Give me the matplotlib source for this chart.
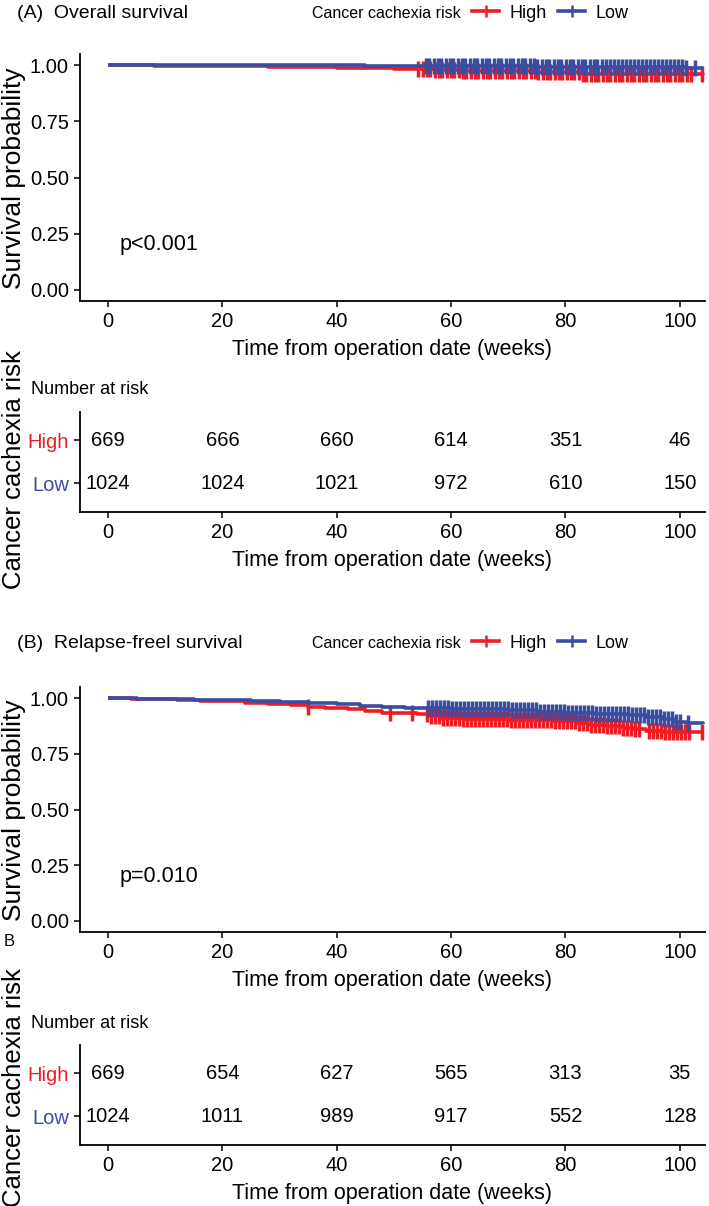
import numpy as np
import matplotlib
matplotlib.use("Agg")
import matplotlib.pyplot as plt
from matplotlib.lines import Line2D

plt.rcParams['font.family'] = ['Liberation Sans', 'DejaVu Sans']

RED = '#EE1D25'
BLUE = '#3A4DA2'

groups = ['High', 'Low']
risk_times = [0, 20, 40, 60, 80, 100]

# (A) overall survival - step curves
os_high_t = [0, 8, 15, 22, 28, 34, 40, 45, 50, 54, 57, 62, 68, 75, 82, 83, 90, 97, 104]
os_high_s = [1.0, 0.9985, 0.997, 0.9955, 0.994, 0.992, 0.989, 0.987, 0.984, 0.981, 0.978, 0.976, 0.974, 0.972, 0.969, 0.963, 0.962, 0.960, 0.958]
os_low_t = [0, 35, 45, 55, 65, 75, 85, 95, 101, 104]
os_low_s = [1.0, 0.999, 0.998, 0.997, 0.996, 0.994, 0.992, 0.990, 0.986, 0.986]
os_high_cens = [54.2, 55.0, 55.7, 56.3, 57.1, 57.8, 58.4, 59.2, 59.9, 60.5, 61.3, 62.0, 62.6, 63.4, 64.1,
                64.7, 65.5, 66.2, 66.8, 67.6, 68.3, 68.9, 69.7, 70.4, 71.0, 71.8, 72.5, 73.1, 73.9, 74.6,
                75.2, 76.0, 76.7, 77.3, 78.1, 78.8, 79.4, 80.2, 80.9, 81.5, 82.3, 83.0, 83.6, 84.4, 85.1,
                85.7, 86.5, 87.2, 87.8, 88.6, 89.3, 89.9, 90.7, 91.4, 92.0, 92.8, 93.5, 94.1, 94.9, 95.6,
                96.2, 97.0, 97.7, 98.3, 99.1, 99.8, 100.4, 101.2, 101.9, 103.9]
os_low_cens = [55.6, 56.2, 57.0, 57.7, 58.3, 59.1, 59.8, 60.4, 61.2, 61.9, 62.5, 63.3, 64.0, 64.6, 65.4,
               66.1, 66.7, 67.5, 68.2, 68.8, 69.6, 70.3, 70.9, 71.7, 72.4, 73.0, 73.8, 74.5, 75.1, 75.9,
               76.6, 77.2, 78.0, 78.7, 79.3, 80.1, 80.8, 81.4, 82.2, 82.9, 83.5, 84.3, 85.0, 85.6, 86.4,
               87.1, 87.7, 88.5, 89.2, 89.8, 90.6, 91.3, 91.9, 92.7, 93.4, 94.0, 94.8, 95.5, 96.1, 96.9,
               97.6, 98.2, 99.0, 99.7, 100.3, 101.0, 102.6]
os_risk_high = [669, 666, 660, 614, 351, 46]
os_risk_low = [1024, 1024, 1021, 972, 610, 150]

# (B) relapse-free survival
rfs_high_t = [0, 4, 8, 12, 16, 20, 24, 28, 32, 35, 38, 42, 45, 48, 51, 54, 56, 58, 62, 66, 70, 74, 78,
              82, 84, 87, 90, 92, 94, 97, 104]
rfs_high_s = [1.0, 0.997, 0.994, 0.991, 0.988, 0.985, 0.980, 0.975, 0.968, 0.962, 0.957, 0.950, 0.942,
              0.935, 0.932, 0.928, 0.918, 0.912, 0.908, 0.905, 0.902, 0.900, 0.896, 0.890, 0.880, 0.874,
              0.868, 0.860, 0.852, 0.848, 0.848]
rfs_low_t = [0, 5, 10, 15, 20, 25, 30, 35, 40, 44, 48, 52, 56, 60, 65, 70, 75, 80, 85, 88, 91, 94, 97,
             99, 101, 104]
rfs_low_s = [1.0, 0.998, 0.996, 0.993, 0.990, 0.986, 0.982, 0.977, 0.972, 0.966, 0.960, 0.957, 0.955,
             0.952, 0.950, 0.945, 0.938, 0.934, 0.930, 0.927, 0.924, 0.915, 0.905, 0.895, 0.888, 0.885]
rfs_high_cens = [35.0, 49.3, 53.2, 55.8, 56.5, 57.2, 57.9, 58.6, 59.3, 60.0, 60.7, 61.4, 62.1, 62.8, 63.5,
                 64.2, 64.9, 65.6, 66.3, 67.0, 67.7, 68.4, 69.1, 69.8, 70.5, 71.2, 71.9, 72.6, 73.3, 74.0,
                 74.7, 75.4, 76.1, 76.8, 77.5, 78.2, 78.9, 79.6, 80.3, 81.0, 81.7, 82.4, 83.1, 83.8, 84.5,
                 85.2, 85.9, 86.6, 87.3, 88.0, 88.7, 89.4, 90.1, 90.8, 91.5, 92.2, 92.9, 94.6, 95.3, 96.0,
                 96.7, 97.4, 98.1, 98.8, 99.5, 100.2, 100.9, 101.6, 103.8]
rfs_low_cens = [55.9, 56.6, 57.3, 58.0, 58.7, 59.4, 60.1, 60.8, 61.5, 62.2, 62.9, 63.6, 64.3, 65.0, 65.7,
                66.4, 67.1, 67.8, 68.5, 69.2, 69.9, 70.6, 71.3, 72.0, 72.7, 73.4, 74.1, 74.8, 75.5, 76.2,
                76.9, 77.6, 78.3, 79.0, 79.7, 80.4, 81.1, 81.8, 82.5, 83.2, 83.9, 84.6, 85.3, 86.0, 86.7,
                87.4, 88.1, 88.8, 89.5, 90.2, 90.9, 91.6, 92.3, 93.0, 93.7, 94.4, 95.1, 95.8, 96.5, 97.2,
                97.9, 98.6, 99.3, 100.0, 101.4]
rfs_risk_high = [669, 654, 627, 565, 313, 35]
rfs_risk_low = [1024, 1011, 989, 917, 552, 128]

W, H = 709, 1206
fig = plt.figure(figsize=(W / 100, H / 100), dpi=100)


def rect(left, top, right, bottom):
    return [left / W, 1 - bottom / H, (right - left) / W, (bottom - top) / H]


XLIM = (-4.9, 104.4)
XTICKS = [0, 20, 40, 60, 80, 100]
XLABEL = 'Time from operation date (weeks)'


def style(ax):
    for s in ['top', 'right']:
        ax.spines[s].set_visible(False)
    for s in ['left', 'bottom']:
        ax.spines[s].set_linewidth(1.3)
    ax.tick_params(length=4, width=1.1, labelsize=14.5, pad=4)
    ax.set_xlim(*XLIM)
    ax.set_xticks(XTICKS)


def step_at(t, s, x):
    idx = np.searchsorted(t, x, side='right') - 1
    return np.asarray(s)[idx]


def km_panel(ax, curves, ptext):
    for t, s, cens, col in curves:
        ax.step(t, s, where='post', color=col, lw=2.6, solid_capstyle='butt')
        ax.plot(cens, step_at(t, s, cens), ls='none', marker='|', ms=11, mew=2.5, color=col)
    style(ax)
    ax.set_ylim(-0.05, 1.05)
    ax.set_yticks([0, 0.25, 0.5, 0.75, 1.0])
    ax.set_yticklabels(['0.00', '0.25', '0.50', '0.75', '1.00'])
    ax.set_xlabel(XLABEL, fontsize=15.5, labelpad=6)
    ax.text(2, 0.2, ptext, fontsize=15.5, va='center', ha='left')


def risk_panel(ax, high, low):
    style(ax)
    ax.set_ylim(-0.67, 1.65)
    ax.set_yticks([1, 0])
    ax.set_yticklabels(groups, fontsize=14.5)
    for lab, col in zip(ax.get_yticklabels(), [RED, BLUE]):
        lab.set_color(col)
    for x, h, l in zip(risk_times, high, low):
        ax.text(x, 1, str(h), ha='center', va='center', fontsize=14.5)
        ax.text(x, 0, str(l), ha='center', va='center', fontsize=14.5)
    ax.set_xlabel(XLABEL, fontsize=15.5, labelpad=6)


def header(y, title):
    fig.text(17 / W, 1 - y / H, title, fontsize=14, va='center', ha='left')
    fig.text(312 / W, 1 - y / H, 'Cancer cachexia risk', fontsize=11.5, va='center', ha='left')
    handles = [Line2D([], [], color=RED, lw=2.6, marker='|', ms=9, mew=1.8),
               Line2D([], [], color=BLUE, lw=2.6, marker='|', ms=9, mew=1.8)]
    fig.legend(handles, groups, loc='center left', bbox_to_anchor=(472 / W, 1 - y / H), ncol=2,
               frameon=False, fontsize=13, handlelength=1.5, handletextpad=0.6, columnspacing=0.6,
               borderaxespad=0, borderpad=0)


axA = fig.add_axes(rect(80, 54, 705, 301))
km_panel(axA, [(os_high_t, os_high_s, os_high_cens, RED), (os_low_t, os_low_s, os_low_cens, BLUE)], 'p<0.001')
tabA = fig.add_axes(rect(80, 412, 705, 512))
risk_panel(tabA, os_risk_high, os_risk_low)

axB = fig.add_axes(rect(80, 687, 705, 932))
km_panel(axB, [(rfs_high_t, rfs_high_s, rfs_high_cens, RED), (rfs_low_t, rfs_low_s, rfs_low_cens, BLUE)], 'p=0.010')
tabB = fig.add_axes(rect(80, 1045, 705, 1145))
risk_panel(tabB, rfs_risk_high, rfs_risk_low)

header(13, '(A)  Overall survival')
header(643, '(B)  Relapse-freel survival')

for yc in [178, 810]:
    fig.text(14 / W, 1 - yc / H, 'Survival probability', rotation=90, fontsize=19, va='center', ha='center')
for yc in [470, 1088]:
    fig.text(14 / W, 1 - yc / H, 'Cancer cachexia risk', rotation=90, fontsize=18.5, va='center', ha='center')
for yc in [390, 1023]:
    fig.text(31 / W, 1 - yc / H, 'Number at risk', fontsize=13, va='center', ha='left')
fig.text(9 / W, 1 - 942 / H, 'B', fontsize=12, va='center', ha='center')

fig.savefig('out.png', dpi=100)
